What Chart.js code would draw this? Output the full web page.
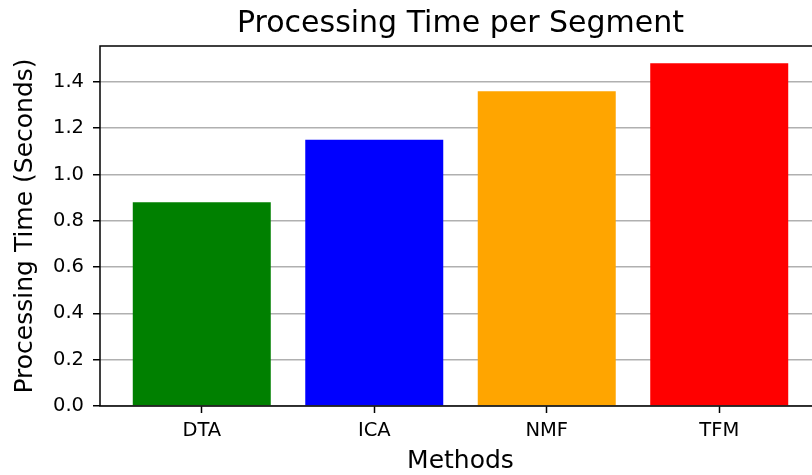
<!DOCTYPE html>
<html>
<head>
<meta charset="utf-8">
<script src="https://cdn.jsdelivr.net/npm/chart.js@4/dist/chart.umd.min.js"></script>
<style>
  html, body { margin: 0; padding: 0; background: #fff; }
  #wrap { width: 812px; height: 475px; overflow: hidden; }
</style>
</head>
<body>
<div id="wrap">
  <canvas id="chart" width="830" height="475"></canvas>
</div>
<script>
const methods = ["DTA", "ICA", "NMF", "TFM"]
const seconds = [0.88, 1.15, 1.36, 1.48]
const barColors = ["#008000", "#0000ff", "#ffa500", "#ff0000"]
const yTicks = [0.0, 0.2, 0.4, 0.6, 0.8, 1.0, 1.2, 1.4]

const font = "'DejaVu Sans', sans-serif"

// matplotlib-style box around the axes
const frame = {
  id: "frame",
  afterDraw(chart) {
    const { ctx, chartArea: a } = chart
    ctx.save()
    ctx.strokeStyle = "#000"
    ctx.lineWidth = 1.5
    ctx.strokeRect(a.left, a.top, a.right - a.left, a.bottom - a.top)
    ctx.restore()
  }
}

new Chart(document.getElementById("chart"), {
  type: "bar",
  data: {
    datasets: [{
      data: seconds.map((v, i) => ({ x: i, y: v })),
      backgroundColor: barColors,
      borderWidth: 0,
      barPercentage: 0.8,
      categoryPercentage: 1
    }]
  },
  plugins: [frame],
  options: {
    responsive: false,
    animation: false,
    layout: { padding: { left: 0, right: 9, top: 0, bottom: 0 } },
    scales: {
      x: {
        type: "linear",
        min: -0.59,
        max: 3.59,
        offset: false,
        afterBuildTicks: (scale) => {
          scale.ticks = methods.map((m, i) => ({ value: i }))
        },
        afterFit: (scale) => { scale.height = 69 },
        border: { display: false },
        grid: {
          offset: false,
          drawOnChartArea: false,
          drawTicks: true,
          tickLength: 7,
          tickColor: "#000",
          tickWidth: 1.5
        },
        ticks: {
          color: "#000",
          padding: 6,
          font: { family: font, size: 19.5 },
          callback: (v) => methods[v]
        },
        title: {
          display: true,
          text: "Methods",
          color: "#000",
          padding: { top: 0, bottom: 1 },
          font: { family: font, size: 25, lineHeight: 1 }
        }
      },
      y: {
        min: 0,
        max: 1.555,
        z: 1,
        afterBuildTicks: (scale) => {
          scale.ticks = yTicks.map(v => ({ value: v }))
        },
        afterFit: (scale) => { scale.width = 100 },
        border: { display: false },
        grid: {
          color: "#b0b0b0",
          lineWidth: 1.5,
          drawTicks: true,
          tickLength: 7,
          tickColor: "#000",
          tickWidth: 1.5
        },
        ticks: {
          color: "#000",
          padding: 9,
          font: { family: font, size: 19.5 },
          callback: (v) => v.toFixed(1)
        },
        title: {
          display: true,
          text: "Processing Time (Seconds)",
          color: "#000",
          padding: { top: 10, bottom: 0 },
          font: { family: font, size: 25 }
        }
      }
    },
    plugins: {
      legend: { display: false },
      tooltip: { enabled: false },
      title: {
        display: true,
        fullSize: false,
        text: "Processing Time per Segment",
        color: "#000",
        padding: { top: 6, bottom: 4 },
        font: { family: font, size: 30, weight: "normal", lineHeight: 1.2 }
      }
    }
  }
})
</script>
</body>
</html>
